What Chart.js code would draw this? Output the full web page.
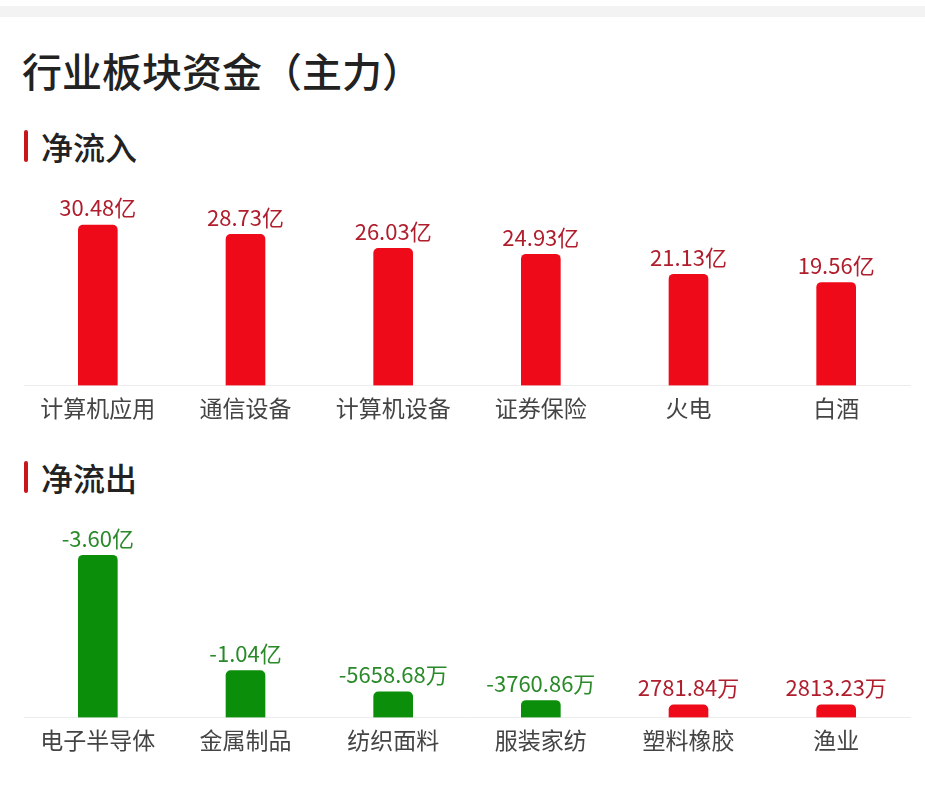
<!DOCTYPE html>
<html>
<head>
<meta charset="utf-8">
<script src="https://cdn.jsdelivr.net/npm/chart.js@4.4.1/dist/chart.umd.min.js"></script>
<style>
  body { margin: 0; background: #fff; font-family: "Noto Sans CJK SC", sans-serif; }
  #page { position: relative; width: 925px; height: 790px; overflow: hidden; }
  .band { position: absolute; left: 0; top: 6px; width: 925px; height: 11px; background: #f3f3f3; }
  .title { position: absolute; left: 22px; top: 50px; font-size: 40px; line-height: 40px; color: #222; font-weight: 500; }
  .sec { position: absolute; left: 41px; font-size: 32px; line-height: 32px; color: #222; font-weight: 500; }
  .mark { position: absolute; left: 24px; width: 4px; height: 32px; background: #c8161d; border-radius: 2px; }
  canvas { position: absolute; left: 0; }
</style>
</head>
<body>
<div id="page">
  <div class="band"></div>
  <div class="title">行业板块资金（主力）</div>
  <div class="mark" style="top:130px"></div>
  <div class="sec" style="top:130px">净流入</div>
  <div class="mark" style="top:461px"></div>
  <div class="sec" style="top:461px">净流出</div>
  <canvas id="inChart" width="925" height="251" style="top:180px"></canvas>
  <canvas id="outChart" width="925" height="253" style="top:510px"></canvas>
</div>
<script>
// 净流入 (亿)
const inflowNames = ['计算机应用', '通信设备', '计算机设备', '证券保险', '火电', '白酒'];
const inflowValues = [30.48, 28.73, 26.03, 24.93, 21.13, 19.56];
const inflowLabels = ['30.48亿', '28.73亿', '26.03亿', '24.93亿', '21.13亿', '19.56亿'];

// 净流出 (亿)
const outflowNames = ['电子半导体', '金属制品', '纺织面料', '服装家纺', '塑料橡胶', '渔业'];
const outflowValues = [-3.60, -1.04, -0.565868, -0.376086, 0.278184, 0.281323];
const outflowLabels = ['-3.60亿', '-1.04亿', '-5658.68万', '-3760.86万', '2781.84万', '2813.23万'];

const RED_BAR = '#ee0a19';
const GREEN_BAR = '#0b8f0b';
const RED_TEXT = '#b01d2d';
const GREEN_TEXT = '#2a8a2a';
const FONT = '"Noto Sans CJK SC", sans-serif';

// draws the value text above each bar
const valueLabels = {
    id: 'valueLabels',
    afterDatasetsDraw(chart) {
        const ctx = chart.ctx;
        const meta = chart.getDatasetMeta(0);
        const texts = chart.options.plugins.valueLabels.texts;
        const signs = chart.options.plugins.valueLabels.signs;
        ctx.save();
        ctx.font = '22px ' + FONT;
        ctx.textAlign = 'center';
        ctx.textBaseline = 'bottom';
        meta.data.forEach((bar, i) => {
            ctx.fillStyle = signs[i] > 0 ? RED_TEXT : GREEN_TEXT;
            ctx.fillText(texts[i], bar.x, bar.y - 6);
        });
        ctx.restore();
    }
};

function makeChart(el, names, values, texts) {
    const heights = values.map(v => Math.abs(v));
    const colors = values.map(v => v > 0 ? RED_BAR : GREEN_BAR);

    return new Chart(document.getElementById(el), {
        type: 'bar',
        data: {
            labels: names,
            datasets: [{
                data: heights,
                backgroundColor: colors,
                barThickness: 39,
                borderRadius: { topLeft: 5, topRight: 5 },
                borderSkipped: 'start',
            }]
        },
        options: {
            responsive: false,
            animation: false,
            layout: { padding: { left: 24, right: 15, top: 29, bottom: 0 } },
            plugins: {
                legend: { display: false },
                tooltip: { enabled: false },
                valueLabels: { texts: texts, signs: values },
            },
            scales: {
                x: {
                    grid: { display: false, drawTicks: false },
                    border: { display: true, color: '#ececec', width: 1 },
                    ticks: {
                        padding: 9,
                        color: '#444',
                        font: { family: FONT, size: 23 },
                        maxRotation: 0,
                        autoSkip: false,
                    }
                },
                y: {
                    display: false,
                    min: 0,
                    max: Math.max(...heights) * 1.1,
                }
            }
        },
        plugins: [valueLabels]
    });
}

makeChart('inChart', inflowNames, inflowValues, inflowLabels);
makeChart('outChart', outflowNames, outflowValues, outflowLabels);
</script>
</body>
</html>
